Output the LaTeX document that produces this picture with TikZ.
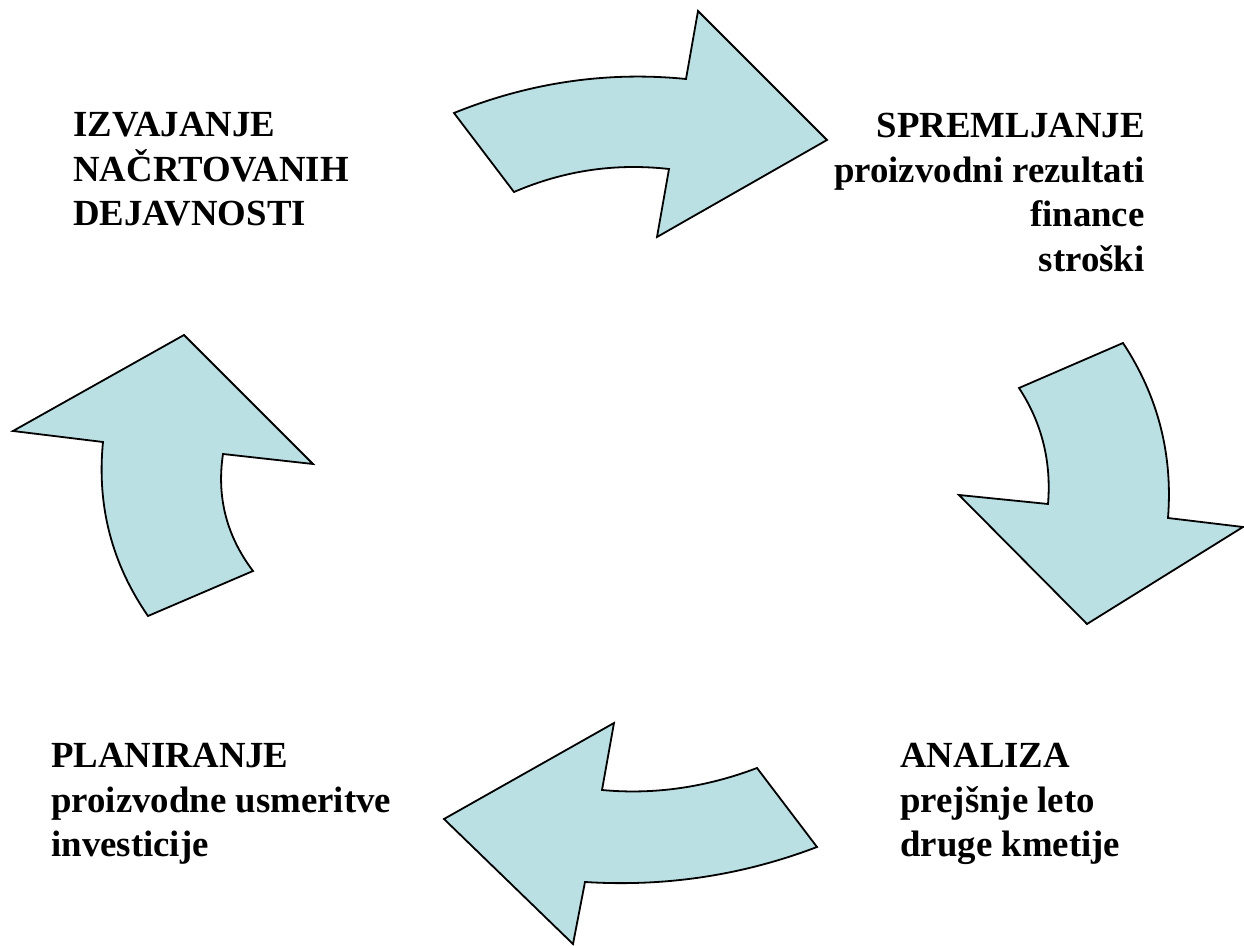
\documentclass[tikz,border=0pt]{standalone}
\usepackage{fontspec}
\setmainfont{Liberation Serif}
\definecolor{arrowfill}{RGB}{187,224,227}
\begin{document}
\begin{tikzpicture}[x=0.5pt,y=-0.5pt,
  bigarrow/.style={draw=black,line width=0.9pt,line join=miter,fill=arrowfill},
  steptext/.style={inner sep=0pt,font=\fontsize{18.4}{22.3}\selectfont\bfseries}]
\useasboundingbox (0,0) rectangle (1244,946);
% izvajanje -> spremljanje
\draw [bigarrow] (454,113) .. controls (528,83) and (606,71) .. (686,79) -- (698,11) -- (827,140)
  -- (657,237) -- (669,169) .. controls (615,163) and (564,170.5) .. (514,192) -- cycle;
% spremljanje -> analiza
\draw [bigarrow] (1168,518) .. controls (1173,454.5) and (1158,396) .. (1123,343) -- (1019,388)
  .. controls (1042,423) and (1051.5,462) .. (1048,504) -- (959,495) -- (1087,624) -- (1243,527) -- cycle;
% analiza -> planiranje
\draw [bigarrow] (757,768) .. controls (707,787) and (655,795) .. (602,790) -- (614,723) -- (444,819)
  -- (573,944) -- (585,882) .. controls (665,887) and (742,875.5) .. (817,847) -- cycle;
% planiranje -> izvajanje
\draw [bigarrow] (253,571) .. controls (226.5,536) and (216.5,497) .. (223,454) -- (313,464) -- (184,335)
  -- (13,431) -- (103,442) .. controls (96.7,505.5) and (111.7,563.5) .. (148,616) -- cycle;
% texts
\node [steptext,anchor=north west,align=left] (izvajanje) at (73,112) {IZVAJANJE\\NAČRTOVANIH\\DEJAVNOSTI};
\node [steptext,anchor=north east,align=right] (spremljanje) at (1145,113) {SPREMLJANJE\\proizvodni rezultati\\finance\\stroški};
\node [steptext,anchor=north west,align=left] (planiranje) at (51,743) {PLANIRANJE\\proizvodne usmeritve\\investicije};
\node [steptext,anchor=north west,align=left] (analiza) at (900,743) {ANALIZA\\prejšnje leto\\druge kmetije};
\end{tikzpicture}
\end{document}
